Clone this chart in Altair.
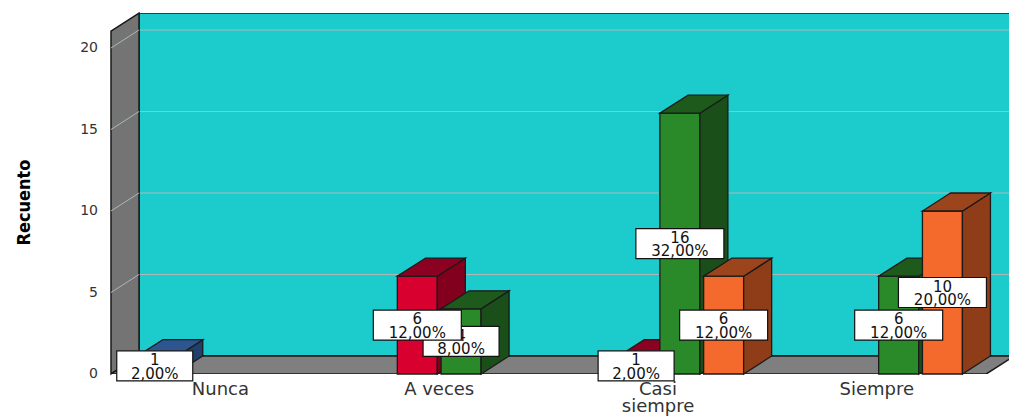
import altair as alt
import pandas as pd

# Categories on the x axis and the four clustered series (counts per category)
categories = ["Nunca", "A veces", "Casi siempre", "Siempre"]
category_labels = ["Nunca", "A veces", "Casi\nsiempre", "Siempre"]
series_names = ["Nunca", "A veces", "Casi siempre", "Siempre"]

blue_counts = [1, 0, 0, 0]
red_counts = [0, 6, 1, 0]
green_counts = [0, 4, 16, 6]
orange_counts = [0, 0, 6, 10]

y_ticks = [0, 5, 10, 15, 20]
y_title = "Recuento"

# Face colours per series: front, right side, top
front_fill = ["#2f5b96", "#d7002f", "#2a8a2a", "#f36a2c"]
side_fill = ["#213f6c", "#82001d", "#1b4f19", "#8f3d18"]
top_fill = ["#2d5690", "#8c0021", "#1d5a1c", "#9c451c"]

wall_fill = "#1ccccc"
side_wall_fill = "#747474"
floor_fill = "#7f7f7f"
grid_color = "#aab8b8"
edge = "#1a1a1a"

# ---- geometry of the pseudo-3D box (data units) ----
PLOT_W, PLOT_H = 898, 361
PX_X = 218.8                      # pixels per category step
PX_Y = 16.3                       # pixels per count
X_MIN = -0.5
X_MAX = X_MIN + PLOT_W / PX_X
Y_MAX = PLOT_H / PX_Y
DX = 28 / PX_X                    # depth offset, horizontal
DY = 18 / PX_Y                    # depth offset, vertical
SLOT = 0.2                        # spacing of series inside a cluster
HALF = 20 / PX_X                  # half bar width
FRAME_TOP = 21.04
N = len(categories)

XS = alt.Scale(domain=[X_MIN, X_MAX], nice=False, zero=False)
YS = alt.Scale(domain=[0, Y_MAX], nice=False, zero=False)


def X(f):
    return alt.X(f, type="quantitative", scale=XS, axis=None, stack=None)


def Y(f):
    return alt.Y(f, type="quantitative", scale=YS, axis=None, stack=None)


# ---- bar table built from the series arrays ----
all_counts = [blue_counts, red_counts, green_counts, orange_counts]
total = sum(sum(c) for c in all_counts)
rows = []
for s, counts in enumerate(all_counts):
    for i, c in enumerate(counts):
        if c > 0:
            rows.append({"cat": i, "s": s, "count": c, "cx": i + (s - 1.5) * SLOT})
bars = pd.DataFrame(rows).sort_values(["cat", "s"]).reset_index(drop=True)
bars["k"] = bars.index
bars["x0"] = bars["cx"] - HALF
bars["x1"] = bars["cx"] + HALF
bars["base"] = 0.0

side_rows, top_rows, label_rows = [], [], []
for r in bars.itertuples():
    side_rows.append({"k": r.k, "x": r.x1, "top": r.count, "bot": 0.0})
    side_rows.append({"k": r.k, "x": r.x1 + DX, "top": r.count + DY, "bot": DY})
    top_rows.append({"k": r.k, "y": float(r.count), "xl": r.x0, "xr": r.x1})
    top_rows.append({"k": r.k, "y": r.count + DY, "xl": r.x0 + DX, "xr": r.x1 + DX})
    pct = f"{r.count / total * 100:.2f}".replace(".", ",") + "%"
    box_w = (12 * len(pct) + 16) / PX_X / 2
    box_h = 15 / PX_Y
    mid = r.count / 2
    label_rows.append({
        "k": r.k, "cx": r.cx, "cy": mid, "text": f"{r.count}\n{pct}",
        "lx0": r.cx - box_w, "lx1": r.cx + box_w,
        "ly0": mid - box_h, "ly1": mid + box_h,
    })
side_df = pd.DataFrame(side_rows)
top_df = pd.DataFrame(top_rows)
label_df = pd.DataFrame(label_rows)

# ---- frame: back wall, left wall, floor, grid ----
back_df = pd.DataFrame([{"x": X_MIN + DX, "x2": X_MAX + 0.3, "y": DY, "y2": FRAME_TOP + DY}])
back = alt.Chart(back_df).mark_rect(
    fill=wall_fill, stroke=edge, strokeWidth=1.5, clip=True
).encode(x=X("x"), x2="x2", y=Y("y"), y2="y2")

grid_back_df = pd.DataFrame({"y": [t + DY for t in y_ticks[1:]], "x": X_MIN + DX, "x2": X_MAX + 0.3})
grid_back = alt.Chart(grid_back_df).mark_rule(color=grid_color, strokeWidth=1, clip=True).encode(
    x=X("x"), x2="x2", y=Y("y")
)

left_df = pd.DataFrame({"x": [X_MIN, X_MIN + DX], "top": [FRAME_TOP, FRAME_TOP + DY], "bot": [0.0, DY]})
left_wall = alt.Chart(left_df).mark_area(
    orient="vertical", fill=side_wall_fill, stroke=edge, strokeWidth=1.5, interpolate="linear"
).encode(x=X("x"), y=Y("top"), y2="bot")

grid_left_df = pd.DataFrame({"y": y_ticks[1:], "y2": [t + DY for t in y_ticks[1:]],
                             "x": X_MIN, "x2": X_MIN + DX})
grid_left = alt.Chart(grid_left_df).mark_rule(color=grid_color, strokeWidth=1).encode(
    x=X("x"), x2="x2", y=Y("y"), y2="y2"
)

floor_df = pd.DataFrame({"y": [0.0, DY], "xl": [X_MIN, X_MIN + DX],
                         "xr": [N - 0.5, N - 0.5 + DX]})
floor = alt.Chart(floor_df).mark_area(
    orient="horizontal", fill=floor_fill, stroke=edge, strokeWidth=1.5, clip=True, interpolate="linear"
).encode(y=Y("y"), x=X("xl"), x2="xr")

# y tick labels on the front edge of the left wall, and the rotated axis title
tick_df = pd.DataFrame({"y": y_ticks, "x": X_MIN, "label": [str(t) for t in y_ticks]})
tick_text = alt.Chart(tick_df).mark_text(
    font="DejaVu Sans", fontSize=14, color="#333333", align="right", baseline="middle", dx=-13
).encode(x=X("x"), y=Y("y"), text="label:N")

title_df = pd.DataFrame([{"x": X_MIN - 86 / PX_X, "y": FRAME_TOP / 2, "label": y_title}])
title_text = alt.Chart(title_df).mark_text(
    font="'DejaVu Sans Condensed', 'Liberation Sans', sans-serif", fontWeight="bold",
    fontSize=18, color="#000000", angle=270, align="center", baseline="middle"
).encode(x=X("x"), y=Y("y"), text="label:N")

layers = [back, grid_back, left_wall, grid_left, floor, tick_text, title_text]

# ---- bars, drawn one at a time from left to right ----
for r in bars.itertuples():
    sel = alt.datum.k == r.k
    front = alt.Chart(bars).transform_filter(sel).mark_rect(
        fill=front_fill[r.s], stroke=edge, strokeWidth=1.3
    ).encode(x=X("x0"), x2="x1", y=Y("base"), y2="count")
    side = alt.Chart(side_df).transform_filter(sel).mark_area(
        orient="vertical", fill=side_fill[r.s], stroke=edge, strokeWidth=1.3, interpolate="linear"
    ).encode(x=X("x"), y=Y("top"), y2="bot")
    top = alt.Chart(top_df).transform_filter(sel).mark_area(
        orient="horizontal", fill=top_fill[r.s], stroke=edge, strokeWidth=1.3, interpolate="linear"
    ).encode(y=Y("y"), x=X("xl"), x2="xr")
    layers += [front, side, top]

# ---- value labels (count and percentage), right to left so left ones sit on top ----
LINE_H = 13.5
for r in label_df.iloc[::-1].itertuples():
    sel = alt.datum.k == r.k
    box = alt.Chart(label_df).transform_filter(sel).mark_rect(
        fill="white", stroke="#111111", strokeWidth=1.2
    ).encode(x=X("lx0"), x2="lx1", y=Y("ly0"), y2="ly1")
    txt = alt.Chart(label_df).transform_filter(sel).mark_text(
        lineBreak="\n", lineHeight=LINE_H, fontSize=15, font="DejaVu Sans",
        color="#111111", align="center", baseline="middle", dy=-LINE_H / 2 + 1
    ).encode(x=X("cx"), y=Y("cy"), text="text:N")
    layers += [box, txt]

# ---- category labels under the floor ----
cat_df = pd.DataFrame({"cx": list(range(N)), "label": category_labels, "y": 0.0})
cat_text = alt.Chart(cat_df).mark_text(
    lineBreak="\n", lineHeight=17, fontSize=18, font="DejaVu Sans", color="#333333",
    align="center", baseline="top", dy=7
).encode(x=X("cx"), y=Y("y"), text="label:N")
layers.append(cat_text)

chart = alt.layer(*layers).properties(
    width=PLOT_W, height=PLOT_H,
    padding={"left": 111, "top": 13, "right": 0, "bottom": 44},
    autosize=alt.AutoSizeParams(type="none"),
    background="white",
).configure_view(stroke=None)

chart.save("out.html", embed_options={"renderer": "svg", "actions": False})
